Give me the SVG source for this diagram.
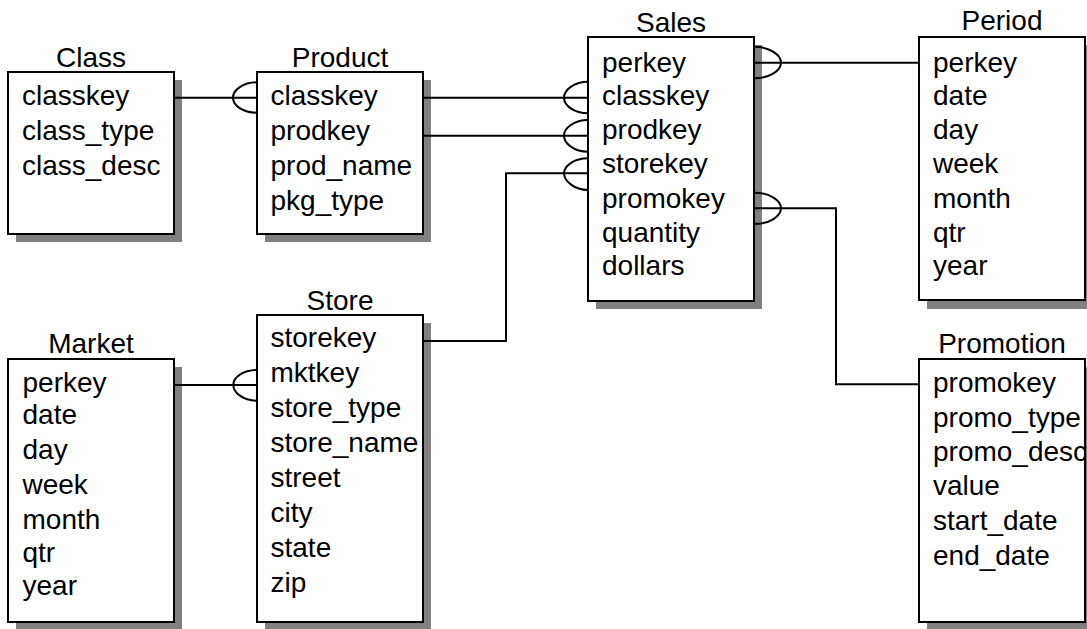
<svg xmlns="http://www.w3.org/2000/svg" width="1087" height="629" viewBox="0 0 1087 629">
<style>
.sh{fill:#808080;stroke:none}
.bx{fill:#fff;stroke:#000;stroke-width:2}
text{font-family:"Liberation Sans",Arial,Helvetica,sans-serif;font-size:28px;fill:#000}
.t{text-anchor:middle}
.c{fill:none;stroke:#000;stroke-width:2}
</style>
<rect width="1087" height="629" fill="#fff"/>
<g id="Class">
<rect class="sh" x="16" y="80" width="166" height="162"/>
<rect class="bx" x="8" y="72" width="166" height="162"/>
<text class="t" x="91" y="66.5">Class</text>
<text x="22" y="105">classkey</text>
<text x="22" y="140">class_type</text>
<text x="22" y="175">class_desc</text>
</g>
<g id="Product">
<rect class="sh" x="265" y="80" width="166" height="162"/>
<rect class="bx" x="257" y="72" width="166" height="162"/>
<text class="t" x="340" y="66.5">Product</text>
<text x="270.5" y="105">classkey</text>
<text x="270.5" y="140">prodkey</text>
<text x="270.5" y="175">prod_name</text>
<text x="270.5" y="210">pkg_type</text>
</g>
<g id="Sales">
<rect class="sh" x="596" y="45" width="166" height="264"/>
<rect class="bx" x="588" y="37" width="166" height="264"/>
<text class="t" x="671" y="31.5">Sales</text>
<text x="602" y="71.5">perkey</text>
<text x="602" y="104.5">classkey</text>
<text x="602" y="138.5">prodkey</text>
<text x="602" y="173">storekey</text>
<text x="602" y="208">promokey</text>
<text x="602" y="241.5">quantity</text>
<text x="602" y="275">dollars</text>
</g>
<g id="Period">
<rect class="sh" x="927" y="45" width="166" height="264"/>
<rect class="bx" x="919" y="37" width="166" height="263"/>
<text class="t" x="1002" y="30">Period</text>
<text x="933" y="71.5">perkey</text>
<text x="933" y="104.5">date</text>
<text x="933" y="138.5">day</text>
<text x="933" y="173">week</text>
<text x="933" y="208">month</text>
<text x="933" y="241.5">qtr</text>
<text x="933" y="275">year</text>
</g>
<g id="Market">
<rect class="sh" x="16" y="367" width="166" height="263"/>
<rect class="bx" x="8" y="359" width="166" height="263"/>
<text class="t" x="91" y="352.5">Market</text>
<text x="22.5" y="391.5">perkey</text>
<text x="22.5" y="423.5">date</text>
<text x="22.5" y="458.5">day</text>
<text x="22.5" y="493.5">week</text>
<text x="22.5" y="528.5">month</text>
<text x="22.5" y="561.5">qtr</text>
<text x="22.5" y="594.5">year</text>
</g>
<g id="Store">
<rect class="sh" x="265" y="323" width="166" height="307"/>
<rect class="bx" x="257" y="315" width="166" height="307"/>
<text class="t" x="340" y="309.5">Store</text>
<text x="270.5" y="346.5">storekey</text>
<text x="270.5" y="381.5">mktkey</text>
<text x="270.5" y="416.5">store_type</text>
<text x="270.5" y="451.5">store_name</text>
<text x="270.5" y="486.5">street</text>
<text x="270.5" y="521.5">city</text>
<text x="270.5" y="556.5">state</text>
<text x="270.5" y="591.5">zip</text>
</g>
<g id="Promotion">
<rect class="sh" x="927" y="367" width="166" height="263"/>
<rect class="bx" x="919" y="359" width="166" height="263"/>
<text class="t" x="1002" y="352.5">Promotion</text>
<text x="933" y="391.5">promokey</text>
<text x="933" y="426.5">promo_type</text>
<text x="933" y="461">promo_desc</text>
<text x="933" y="495">value</text>
<text x="933" y="530">start_date</text>
<text x="933" y="564.5">end_date</text>
</g>
<g id="connectors" class="c">
<path class="c" d="M174,97.7H257"/>
<path class="c" d="M257,82.3C243,82.3 233,90 233,97.7C233,105.4 243,112.7 257,112.7"/>
<path class="c" d="M423,97.7H588"/>
<path class="c" d="M588,81.7C574,81.7 564,90 564,97.7C564,105.4 574,113.3 588,113.3"/>
<path class="c" d="M423,135.7H588"/>
<path class="c" d="M588,120C574,120 564,128 564,135.7C564,143.4 574,151.7 588,151.7"/>
<path class="c" d="M423,341H506V173.3H588"/>
<path class="c" d="M588,158.3C574,158.3 564,166 564,173.3C564,180.6 574,190 588,190"/>
<path class="c" d="M754,62.7H919"/>
<path class="c" d="M754,46.7C770,46.7 781,55 781,62.7C781,70.4 770,78.3 754,78.3"/>
<path class="c" d="M754,208.3H836V384.3H919"/>
<path class="c" d="M754,192.7C770,192.7 781,200.5 781,208.3C781,216 770,224 754,224"/>
<path class="c" d="M174,385H257"/>
<path class="c" d="M257,370C243,370 233.3,377.5 233.3,385C233.3,392.5 243,400.7 257,400.7"/>
</g>
</svg>
